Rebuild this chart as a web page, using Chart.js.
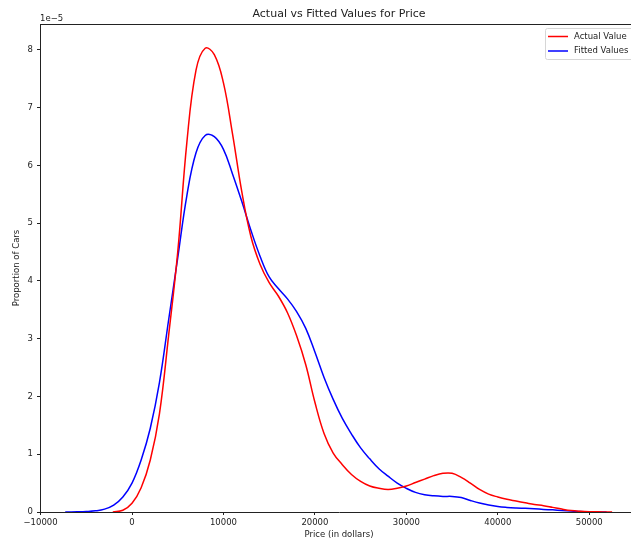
<!DOCTYPE html>
<html>
<head>
<meta charset="utf-8">
<script src="https://cdn.jsdelivr.net/npm/chart.js@4.4.1/dist/chart.umd.min.js"></script>
<style>
  html, body { margin: 0; padding: 0; background: #fff; overflow: hidden; width: 631px; height: 543px; }
  canvas { display: block; }
</style>
</head>
<body>
<canvas id="kdeChart" width="640" height="543"></canvas>
<script>
// Density values in units of 1e-5
const actualX = [-2100, -1000, 0, 1000, 2000, 3000, 4000, 5000, 6000, 7000, 8000, 9000, 10000,
  11000, 12000, 13000, 14000, 15000, 16000, 17000, 18000, 19000, 20000, 21000, 22000, 23000, 24000,
  25000, 26000, 27000, 28000, 29000, 30000, 31000, 32000, 33000, 34000, 35000, 36000, 37000, 38000,
  39000, 40000, 41000, 42000, 43000, 44000, 45000, 46000, 47000, 48000, 49000, 50000, 51000, 52000, 52500];
const actualY = [0, 0.03, 0.15, 0.42, 0.9, 1.7, 3.05, 4.5, 6.4, 7.65, 8.03, 7.92, 7.43,
  6.54, 5.55, 4.77, 4.29, 3.97, 3.74, 3.45, 3.05, 2.55, 1.9, 1.36, 1.02, 0.82, 0.65,
  0.53, 0.45, 0.41, 0.39, 0.41, 0.45, 0.51, 0.57, 0.63, 0.67, 0.67, 0.6, 0.5, 0.39,
  0.31, 0.26, 0.22, 0.19, 0.16, 0.13, 0.11, 0.08, 0.05, 0.025, 0.012, 0.005, 0.003, 0.001, 0];

const fittedX = [-7300, -6000, -5000, -4000, -3000, -2000, -1000, 0, 1000, 2000, 3000, 4000, 5000,
  6000, 7000, 8000, 9000, 10000, 11000, 12000, 13000, 14000, 15000, 16000, 17000, 18000,
  19000, 20000, 21000, 22000, 23000, 24000, 25000, 26000, 27000, 28000, 29000, 30000, 31000, 32000,
  33000, 34000, 35000, 36000, 37000, 38000, 39000, 40000, 41000, 42000, 43000, 44000, 45000, 46000,
  47000, 48000, 49000, 50000, 51000, 51900];
const fittedY = [0, 0.003, 0.008, 0.02, 0.05, 0.12, 0.26, 0.5, 0.9, 1.45, 2.24, 3.32, 4.4,
  5.48, 6.22, 6.52, 6.5, 6.28, 5.85, 5.38, 4.88, 4.43, 4.07, 3.87, 3.69, 3.47,
  3.18, 2.77, 2.33, 1.95, 1.62, 1.35, 1.11, 0.92, 0.75, 0.62, 0.5, 0.41, 0.34, 0.3,
  0.28, 0.27, 0.27, 0.25, 0.2, 0.155, 0.12, 0.095, 0.08, 0.07, 0.063, 0.055, 0.045, 0.037,
  0.027, 0.017, 0.008, 0.003, 0.001, 0];

const seriesLabels = ['Actual Value', 'Fitted Values'];
const xTickValues = [-10000, 0, 10000, 20000, 30000, 40000, 50000];
const yTickValues = [0, 1, 2, 3, 4, 5, 6, 7, 8];

const textColor = '#222';
const tickFont = { family: 'DejaVu Sans', size: 8.5 };

// Bingkai atas, teks 1e-5 dan legenda
const extrasPlugin = {
  id: 'extras',
  afterDraw(chart) {
    const ctx = chart.ctx;
    const area = chart.chartArea;
    ctx.save();
    ctx.strokeStyle = textColor;
    ctx.lineWidth = 1;
    ctx.beginPath();
    ctx.moveTo(area.left, area.top + 0.5);
    ctx.lineTo(area.right, area.top + 0.5);
    ctx.stroke();

    ctx.fillStyle = textColor;
    ctx.font = '8.5px "DejaVu Sans"';
    ctx.textAlign = 'left';
    ctx.textBaseline = 'alphabetic';
    ctx.fillText('1e\u22125', area.left, area.top - 3);

    // legenda
    const bx = area.right - 93, by = area.top + 4, bw = 90, bh = 31;
    ctx.fillStyle = 'rgba(255,255,255,0.8)';
    ctx.strokeStyle = '#d6d6d6';
    ctx.beginPath();
    ctx.roundRect(bx + 0.5, by + 0.5, bw, bh, 2);
    ctx.fill();
    ctx.stroke();
    chart.data.datasets.forEach((ds, i) => {
      const y = by + 8.5 + i * 14.5;
      ctx.strokeStyle = ds.borderColor;
      ctx.lineWidth = 1.5;
      ctx.beginPath();
      ctx.moveTo(bx + 3, y);
      ctx.lineTo(bx + 23, y);
      ctx.stroke();
      ctx.fillStyle = textColor;
      ctx.textBaseline = 'middle';
      ctx.fillText(ds.label, bx + 29, y);
    });
    ctx.restore();
  }
};

const ctx = document.getElementById('kdeChart').getContext('2d');
new Chart(ctx, {
  type: 'line',
  data: {
    datasets: [
      {
        label: seriesLabels[0],
        data: actualX.map((x, i) => ({ x: x, y: actualY[i] })),
        borderColor: '#ff0000',
        borderWidth: 1.5,
        pointRadius: 0,
        tension: 0.4,
        fill: false
      },
      {
        label: seriesLabels[1],
        data: fittedX.map((x, i) => ({ x: x, y: fittedY[i] })),
        borderColor: '#0000ff',
        borderWidth: 1.5,
        pointRadius: 0,
        tension: 0.4,
        fill: false
      }
    ]
  },
  options: {
    responsive: false,
    animation: false,
    events: [],
    layout: { padding: { left: 0, right: 2, top: 0, bottom: 0 } },
    plugins: {
      legend: { display: false },
      tooltip: { enabled: false },
      title: {
        display: true,
        text: 'Actual vs Fitted Values for Price',
        fullSize: false,
        color: textColor,
        font: { family: 'DejaVu Sans', size: 11, weight: 'normal' },
        padding: { top: 8, bottom: 2.8 }
      }
    },
    scales: {
      x: {
        type: 'linear',
        min: -10060,
        max: 55330,
        afterFit(scale) { scale.height = 31; },
        afterBuildTicks(scale) { scale.ticks = xTickValues.map(v => ({ value: v })); },
        grid: { drawOnChartArea: false, drawTicks: true, tickLength: 3, color: textColor },
        border: { display: true, color: textColor, width: 1 },
        ticks: {
          color: textColor,
          font: tickFont,
          padding: 3,
          maxRotation: 0,
          autoSkip: false,
          callback: v => (v < 0 ? '\u2212' + Math.abs(v) : String(v))
        },
        title: {
          display: true,
          text: 'Price (in dollars)',
          color: textColor,
          font: tickFont,
          padding: { top: 0, bottom: 3 }
        }
      },
      y: {
        min: 0,
        max: 8.45,
        afterFit(scale) { scale.width = 40; },
        afterBuildTicks(scale) { scale.ticks = yTickValues.map(v => ({ value: v })); },
        grid: { drawOnChartArea: false, drawTicks: true, tickLength: 3, color: textColor },
        border: { display: true, color: textColor, width: 1 },
        ticks: {
          color: textColor,
          font: tickFont,
          padding: 4,
          autoSkip: false,
          callback: v => String(v)
        },
        title: {
          display: true,
          text: 'Proportion of Cars',
          color: textColor,
          font: tickFont,
          padding: { top: 12, bottom: 0 }
        }
      }
    }
  },
  plugins: [extrasPlugin]
});
</script>
</body>
</html>
